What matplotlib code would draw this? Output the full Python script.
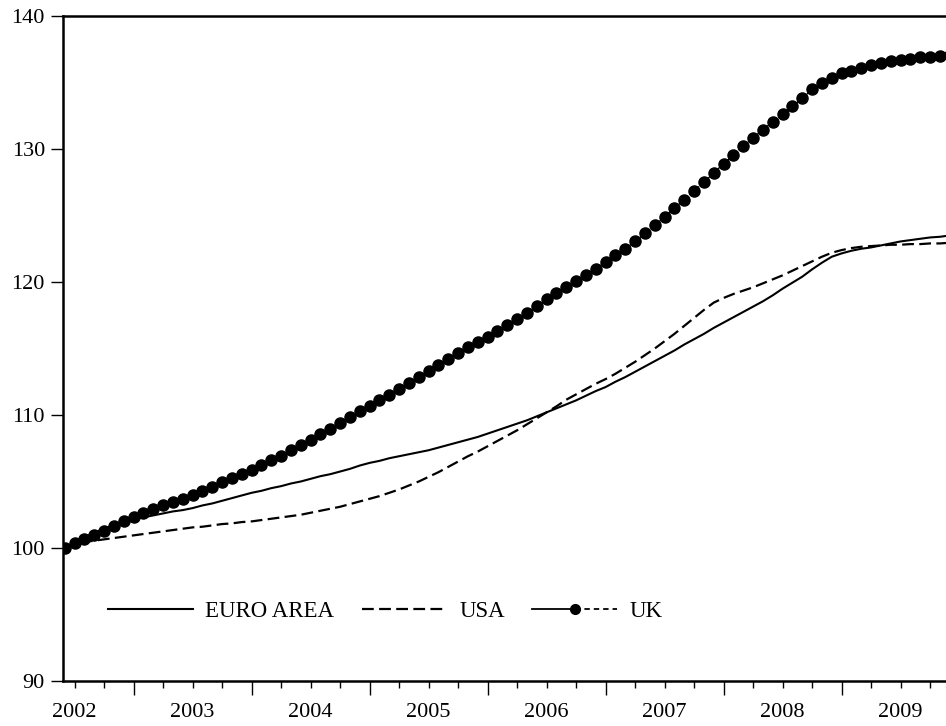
import numpy as np
import matplotlib
matplotlib.use("Agg")
import matplotlib.pyplot as plt
from matplotlib.lines import Line2D
from matplotlib.legend_handler import HandlerBase

plt.rcParams['font.family'] = ['Liberation Serif', 'DejaVu Serif']

# monthly observations, first one is 2002M06
start_year = 2002
start_month = 6
n_obs = 91

euro_area = [
    100.0, 100.4, 100.8, 101.15, 101.45, 101.7, 101.95, 102.15, 102.3, 102.45,
    102.6, 102.75, 102.85, 103.0, 103.2, 103.35, 103.55, 103.75, 103.95, 104.15,
    104.3, 104.5, 104.65, 104.85, 105.0, 105.2, 105.4, 105.55, 105.75, 105.95,
    106.2, 106.4, 106.55, 106.75, 106.9, 107.05, 107.2, 107.35, 107.55, 107.75,
    107.95, 108.15, 108.35, 108.6, 108.85, 109.1, 109.35, 109.6, 109.9, 110.2,
    110.5, 110.8, 111.1, 111.45, 111.8, 112.1, 112.5, 112.85, 113.25, 113.65,
    114.05, 114.45, 114.85, 115.3, 115.7, 116.1, 116.55, 116.95, 117.35, 117.75,
    118.15, 118.55, 119.0, 119.5, 119.95, 120.4, 120.95, 121.45, 121.9, 122.15,
    122.35, 122.5, 122.6, 122.75, 122.9, 123.05, 123.15, 123.25, 123.35, 123.4,
    123.5,
]

usa = [
    100.0, 100.3, 100.45, 100.55, 100.65, 100.75, 100.85, 100.95, 101.05, 101.15,
    101.25, 101.35, 101.45, 101.55, 101.6, 101.7, 101.8, 101.85, 101.95, 102.0,
    102.1, 102.2, 102.3, 102.4, 102.5, 102.65, 102.8, 102.95, 103.1, 103.3,
    103.5, 103.7, 103.9, 104.15, 104.4, 104.7, 105.0, 105.35, 105.7, 106.1,
    106.5, 106.9, 107.25, 107.65, 108.05, 108.45, 108.85, 109.3, 109.75, 110.2,
    110.65, 111.15, 111.55, 111.95, 112.35, 112.7, 113.1, 113.55, 114.0, 114.5,
    115.0, 115.55, 116.1, 116.7, 117.3, 117.9, 118.45, 118.8, 119.1, 119.35,
    119.6, 119.9, 120.2, 120.5, 120.85, 121.2, 121.55, 121.9, 122.2, 122.4,
    122.55, 122.65, 122.7, 122.75, 122.8, 122.8, 122.85, 122.85, 122.9, 122.9,
    122.95,
]

uk = [
    100.0, 100.4, 100.7, 101.0, 101.3, 101.65, 102.0, 102.35, 102.65, 102.95,
    103.2, 103.45, 103.7, 103.95, 104.3, 104.6, 104.95, 105.25, 105.55, 105.9,
    106.25, 106.6, 106.95, 107.35, 107.75, 108.15, 108.55, 108.95, 109.4, 109.85,
    110.3, 110.7, 111.1, 111.5, 111.95, 112.4, 112.85, 113.3, 113.75, 114.2,
    114.65, 115.1, 115.5, 115.9, 116.3, 116.75, 117.2, 117.7, 118.2, 118.7,
    119.2, 119.65, 120.1, 120.55, 121.0, 121.5, 122.0, 122.5, 123.05, 123.65,
    124.25, 124.9, 125.55, 126.2, 126.85, 127.5, 128.2, 128.9, 129.55, 130.2,
    130.85, 131.45, 132.05, 132.65, 133.2, 133.8, 134.5, 135.0, 135.35, 135.7,
    135.9, 136.1, 136.3, 136.45, 136.6, 136.7, 136.8, 136.9, 136.95, 137.0,
    137.05,
]

years = [2002, 2003, 2004, 2005, 2006, 2007, 2008, 2009]

# time axis in fractional years
t = start_year + (start_month - 1 + np.arange(n_obs)) / 12.0


class SplitLineHandler(HandlerBase):
    """EViews style key: solid half, dot, dashed half."""
    def create_artists(self, legend, orig_handle, xdescent, ydescent,
                       width, height, fontsize, trans):
        x0 = -xdescent
        x1 = x0 + width
        xm = x0 + width / 2
        y = -ydescent + height / 2
        solid = Line2D([x0, xm], [y, y], color='black', lw=1.3)
        dashed = Line2D([xm, x1], [y, y], color='black', lw=1.3, ls=(0, (3, 2.2)))
        dot = Line2D([xm], [y], color='black', marker='o', ms=7, ls='none')
        for a in (solid, dashed, dot):
            a.set_transform(trans)
        return [solid, dashed, dot]


fig = plt.figure(figsize=(9.46, 7.26), dpi=100)
ax = fig.add_axes([63 / 946, 45 / 726, 1 - 63 / 946, 665 / 726])

ax.plot(t, euro_area, color='black', lw=1.5, label='EURO AREA')
ax.plot(t, usa, color='black', lw=1.6, ls=(0, (5.3, 2.4)), label='USA')
uk_line, = ax.plot(t, uk, color='black', lw=1.0, ls='--', marker='o',
                   ms=8, label='UK')

ax.set_yticks([90, 100, 110, 120, 130, 140])

# long ticks at year boundaries, short quarterly ticks, labels at mid-year
ax.set_xticks([y + 1 for y in years], labels=[''] * len(years))
quarters = [y + q for y in years for q in (0.25, 0.5, 0.75)]
qlabels = [str(y) if q == 0.5 else '' for y in years for q in (0.25, 0.5, 0.75)]
ax.set_xticks(quarters, labels=qlabels, minor=True)

ax.set_ylim(90, 140)
ax.set_xlim(t[0] - 0.015, t[0] - 0.015 + 883 / 118)

ax.tick_params(axis='x', which='major', length=10, width=1.0, direction='out')
ax.tick_params(axis='x', which='minor', length=5, width=1.0, direction='out',
               pad=11, labelsize=16)
ax.tick_params(axis='y', which='major', length=9, width=1.0, direction='out',
               pad=4, labelsize=16)

for side in ('left', 'top', 'bottom'):
    ax.spines[side].set_linewidth(1.8)
ax.spines['right'].set_visible(False)

ax.legend(handles=[ax.lines[0], ax.lines[1], uk_line],
          labels=['EURO AREA', 'USA', 'UK'],
          handler_map={uk_line: SplitLineHandler()},
          loc='center left', bbox_to_anchor=(0.051, 0.104), ncol=3,
          frameon=False, fontsize=16.5, handlelength=3.7, handletextpad=0.55,
          columnspacing=1.2, borderpad=0, borderaxespad=0)

fig.savefig('out.png', dpi=100)
